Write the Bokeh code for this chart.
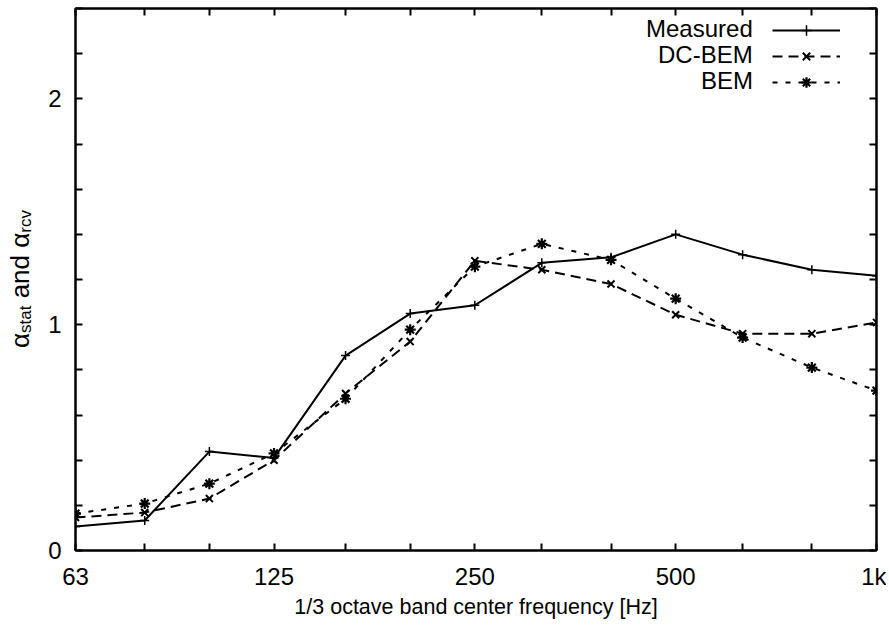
from bokeh.plotting import figure
from bokeh.models import (Range1d, FixedTicker, LinearAxis, LogAxis, Div,
                          Legend, LegendItem)
from bokeh.layouts import row
from bokeh.embed import file_html
from bokeh.resources import INLINE

# ---- data -------------------------------------------------------------
bands = [63, 80, 100, 125, 160, 200, 250, 315, 400, 500, 630, 800, 1000]
band_labels = ["63", "", "", "125", "", "", "250", "", "", "500", "", "", "1k"]
measured = [0.106, 0.133, 0.438, 0.41, 0.863, 1.049, 1.086, 1.274, 1.298, 1.40, 1.31, 1.243, 1.217]
dc_bem = [0.146, 0.168, 0.23, 0.40, 0.695, 0.925, 1.283, 1.243, 1.18, 1.044, 0.96, 0.96, 1.01]
bem = [0.163, 0.208, 0.296, 0.43, 0.672, 0.978, 1.257, 1.358, 1.287, 1.115, 0.943, 0.81, 0.708]
y_ticks = [0, 0.2, 0.4, 0.6, 0.8, 1.0, 1.2, 1.4, 1.6, 1.8, 2.0, 2.2, 2.4]
y_tick_labels = ["0", "", "", "", "", "1", "", "", "", "", "2", "", ""]
series_names = ["Measured", "DC-BEM", "BEM"]
x_title = "1/3 octave band center frequency [Hz]"

FONT = "Liberation Sans"
LABEL_W = 35

p = figure(x_axis_type="log", output_backend="svg", toolbar_location=None,
           frame_width=801, frame_height=542,
           min_border_left=75 - LABEL_W, min_border_right=10, min_border_top=8,
           min_border_bottom=74,
           x_range=Range1d(63, 1000), y_range=Range1d(0, 2.4))
p.grid.visible = False
p.outline_line_color = "black"
p.outline_line_width = 2
p.background_fill_color = "white"
p.border_fill_color = "white"


def style_axis(ax, show_labels):
    ax.major_tick_in = 7
    ax.major_tick_out = 0
    ax.minor_tick_in = 0
    ax.minor_tick_out = 0
    ax.axis_line_color = "black"
    ax.axis_line_width = 2
    ax.major_tick_line_width = 2
    ax.major_label_text_font = FONT
    ax.major_label_text_font_size = "24px"
    ax.major_label_text_color = "black"
    if not show_labels:
        ax.major_label_text_font_size = "0px"
        ax.major_label_standoff = 0


xa = p.xaxis[0]
xa.ticker = FixedTicker(ticks=bands)
xa.major_label_overrides = {b: l for b, l in zip(bands, band_labels)}
style_axis(xa, True)
xa.major_label_standoff = 12
xa.axis_label = x_title
xa.axis_label_text_font = FONT
xa.axis_label_text_font_size = "21.5px"
xa.axis_label_text_font_style = "normal"
xa.axis_label_text_color = "black"
xa.axis_label_standoff = 2

ya = p.yaxis[0]
ya.ticker = FixedTicker(ticks=y_ticks)
ya.major_label_overrides = {t: l for t, l in zip(y_ticks, y_tick_labels)}
style_axis(ya, True)
ya.major_label_standoff = 14

top = LogAxis(ticker=FixedTicker(ticks=bands))
style_axis(top, False)
top.major_label_overrides = {b: "" for b in bands}
p.add_layout(top, "above")
right = LinearAxis(ticker=FixedTicker(ticks=y_ticks))
style_axis(right, False)
right.major_label_overrides = {t: "" for t in y_ticks}
p.add_layout(right, "right")

# ---- series -----------------------------------------------------------
lm = p.line(bands, measured, line_color="black", line_width=2)
sm = p.scatter(bands, measured, marker="cross", size=9, line_color="black", line_width=1.5)
ld = p.line(bands, dc_bem, line_color="black", line_width=2, line_dash="10 6")
sd = p.scatter(bands, dc_bem, marker="x", size=10, line_color="black", line_width=2)
lb = p.line(bands, bem, line_color="black", line_width=2, line_dash="5 8")
sb = p.scatter(bands, bem, marker="asterisk", size=11, line_color="black", line_width=2.2)

# ---- legend: right-aligned names, then the line samples ----------------
LEG_FS = "24px"
ROW_H = 29          # bokeh row height for a 24px label
ROW_PITCH = 26
LEG_TOP = 6         # px below the frame top
NAME_RIGHT = 678    # right end of the names, px from the frame's left edge
NAME_W = [107, 95, 52]  # approx. rendered widths of the names


def base_legend(leg):
    leg.label_text_font = FONT
    leg.label_text_font_size = LEG_FS
    leg.label_text_color = "black"
    leg.border_line_alpha = 0
    leg.background_fill_alpha = 0
    leg.spacing = ROW_PITCH - ROW_H
    leg.label_height = 26
    leg.glyph_height = 26
    leg.padding = 0
    leg.margin = 0


for i, (name, rend) in enumerate(zip(series_names, [lm, ld, lb])):
    vy = 542 - (LEG_TOP + ROW_PITCH * i) - ROW_H
    nl = Legend(items=[LegendItem(label=name, renderers=[rend])],
                location=(NAME_RIGHT - NAME_W[i], vy))
    base_legend(nl)
    nl.glyph_width = 0
    nl.label_standoff = 0
    p.add_layout(nl)

sample_legend = Legend(items=[LegendItem(label=" ", renderers=[l_, s_])
                              for l_, s_ in [(lm, sm), (ld, sd), (lb, sb)]],
                       location=(697, 542 - LEG_TOP - (3 * ROW_H + 2 * (ROW_PITCH - ROW_H))))
base_legend(sample_legend)
sample_legend.glyph_width = 68
sample_legend.label_standoff = 0
p.add_layout(sample_legend)

# ---- y axis title with real subscripts ---------------------------------
y_title_html = (
    '<div style="writing-mode: vertical-rl; transform: rotate(180deg); '
    'white-space: nowrap; font-family: \'Liberation Sans\'; font-size: 26px; '
    'color: black; height: 542px; width: 30px; line-height: 30px; '
    'text-align: center; margin-top: 8px; margin-left: 5px;">'
    'α<sub style="font-size: 17px;">stat</sub> and '
    'α<sub style="font-size: 17px;">rcv</sub></div>'
)
ylab = Div(text=y_title_html, width=LABEL_W, height=600, margin=0)

layout = row(ylab, p, spacing=0)
open("out.html", "w").write(file_html(layout, INLINE))
